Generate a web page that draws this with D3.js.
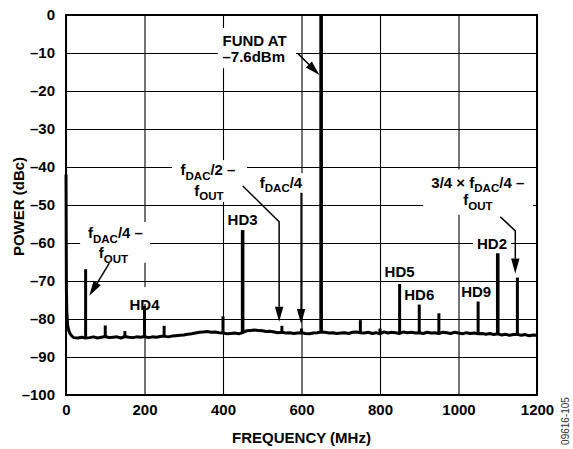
<!DOCTYPE html>
<html><head><meta charset="utf-8">
<script src="https://cdn.jsdelivr.net/npm/d3@7"></script>
<style>
html,body{margin:0;padding:0;background:#fff;}
svg{display:block;font-family:"Liberation Sans",Arial,Helvetica,sans-serif;font-weight:bold;}
</style></head>
<body><svg id="c" width="573" height="449"></svg>
<script>
// ---- data ----
const xTicks = [0, 200, 400, 600, 800, 1000, 1200];
const yTicks = [0, -10, -20, -30, -40, -50, -60, -70, -80, -90, -100];
// DC roll-off at the start of the trace (MHz, dBc)
const dcFreq  = [0, 1, 2, 4, 7, 10, 15];
const dcLevel = [-42, -72, -78, -81.5, -83, -83.8, -84.5];
// noise floor every 10 MHz from 20 to 1200 MHz (dBc)
const floorStart = 20, floorStep = 10;
const floorLevel = [
 -84.9,-85.0,-84.8,-85.0,-84.9,-84.7,-85.0,-84.8,-84.6,-84.9,
 -84.8,-84.7,-85.0,-84.6,-84.8,-84.9,-84.7,-84.8,-84.6,-84.9,
 -84.7,-84.8,-84.6,-84.5,-84.7,-84.5,-84.4,-84.3,-84.2,-84.0,
 -83.9,-83.7,-83.5,-83.4,-83.3,-83.5,-83.4,-83.6,-83.7,-83.9,
 -83.8,-83.7,-83.9,-83.6,-83.1,-83.0,-82.9,-83.0,-83.1,-83.3,
 -83.2,-83.4,-83.6,-83.5,-83.7,-83.6,-83.8,-83.7,-83.6,-83.8,
 -83.9,-83.7,-83.6,-83.4,-83.5,-83.7,-83.6,-83.8,-83.7,-83.6,
 -83.8,-83.5,-83.4,-83.6,-83.7,-83.5,-83.8,-83.6,-83.9,-83.4,
 -83.7,-83.5,-83.6,-83.8,-83.4,-83.6,-83.5,-83.7,-83.6,-83.8,
 -83.5,-83.7,-83.6,-83.8,-83.5,-83.6,-83.8,-83.5,-83.7,-83.9,
 -83.6,-83.8,-83.7,-83.9,-83.8,-84.0,-83.8,-84.1,-83.9,-84.2,
 -84.0,-84.3,-84.1,-84.0,-84.3,-84.1,-84.4,-84.2,-84.3
];
// discrete spurs (MHz, dBc)
const spurFreq  = [50, 100, 150, 200, 250, 400, 450, 550, 600, 650, 750, 800, 850, 900, 950, 1050, 1100, 1150];
const spurLevel = [-66.9, -81.7, -83.2, -76.6, -81.8, -79.3, -56.6, -81.8, -82.5, 0, -80.3, -82.5, -70.8, -76.2, -78.5, -75.4, -62.7, -69.1];
const spurWide  = [450, 650, 1100];

// ---- chart ----
const svg = d3.select('#c');
const x = d3.scaleLinear().domain([0, 1200]).range([66, 537]);
const y = d3.scaleLinear().domain([-100, 0]).range([395, 15]);
const fmt = d => d === 0 ? '0' : '\u2013' + Math.abs(d);

// grid + tick labels through d3 axes
const gx = svg.append('g').attr('transform', `translate(0,${y(-100)})`)
  .call(d3.axisBottom(x).tickValues(xTicks).tickSize(-(y(-100) - y(0))).tickPadding(9.5).tickFormat(d => d));
const gy = svg.append('g').attr('transform', `translate(${x(0)},0)`)
  .call(d3.axisLeft(y).tickValues(yTicks).tickSize(-(x(1200) - x(0))).tickPadding(11).tickFormat(fmt));
[gx, gy].forEach(g => {
  g.select('.domain').remove();
  g.selectAll('line').attr('stroke', '#000').attr('stroke-width', 1.1);
  g.selectAll('text').attr('fill', '#000').attr('font-size', 15).attr('font-family', null).attr('font-weight', 'bold');
});

// white boxes behind annotation labels (data coords)
const boxes = [
  [387, 586, -3.4, -14.0],
  [270, 461, -38.2, -49.2],
  [479, 616, -41.6, -46.8],
  [36, 214, -54.5, -65.2],
  [155, 245, -71.6, -76.0],
  [1037, 1134, -58.2, -62.1],
  [910, 1190, -40.6, -52.6]
];
svg.append('g').selectAll('rect').data(boxes).join('rect')
  .attr('x', d => x(d[0])).attr('width', d => x(d[1]) - x(d[0]))
  .attr('y', d => y(d[2])).attr('height', d => y(d[3]) - y(d[2]))
  .attr('fill', '#fff');

// frame
svg.append('rect').attr('x', x(0)).attr('y', y(0))
  .attr('width', x(1200) - x(0)).attr('height', y(-100) - y(0))
  .attr('fill', 'none').attr('stroke', '#000').attr('stroke-width', 2);

// floor lookup
const floorFreq = floorLevel.map((v, i) => floorStart + i * floorStep);
const floorAt = f => {
  const i = Math.min(Math.max(Math.floor((f - floorStart) / floorStep), 0), floorLevel.length - 2);
  const t = (f - floorFreq[i]) / floorStep;
  return floorLevel[i] + (floorLevel[i + 1] - floorLevel[i]) * t;
};

// spurs
svg.append('g').selectAll('line').data(spurFreq).join('line')
  .attr('x1', d => x(d)).attr('x2', d => x(d))
  .attr('y1', (d, i) => y(spurLevel[i])).attr('y2', d => y(floorAt(d)))
  .attr('stroke', '#000').attr('stroke-width', d => spurWide.includes(d) ? 3.6 : 3);

// trace
const pts = dcFreq.map((f, i) => [f, dcLevel[i]]).concat(floorFreq.map((f, i) => [f, floorLevel[i]]));
svg.append('path').datum(pts)
  .attr('d', d3.line().x(d => x(d[0])).y(d => y(d[1])))
  .attr('fill', 'none').attr('stroke', '#000').attr('stroke-width', 3).attr('stroke-linejoin', 'round');

// arrows (data coords, last point = tip)
const arrows = [
  [[590.7, -10.1], [645.8, -15.8]],
  [[450.5, -45.0], [543, -54.4], [543, -80.7]],
  [[599, -46.8], [599, -81.3]],
  [[110.4, -65.3], [59.4, -73.9]],
  [[1106.4, -53.1], [1144.7, -56.8], [1144.7, -68.0]]
];
const ag = svg.append('g');
arrows.forEach(a => {
  const p = a.map(d => [x(d[0]), y(d[1])]);
  const n = p.length;
  const [tx, ty] = p[n - 1], [sx, sy] = p[n - 2];
  const L = Math.hypot(tx - sx, ty - sy), ux = (tx - sx) / L, uy = (ty - sy) / L;
  const hl = 15, hw = 4.2;
  const bx = tx - ux * hl, by = ty - uy * hl;
  const lp = p.slice(0, n - 1).concat([[bx, by]]);
  ag.append('path').attr('d', d3.line()(lp)).attr('fill', 'none').attr('stroke', '#000').attr('stroke-width', 1.5);
  ag.append('path').attr('d', `M${tx},${ty}L${bx - uy * hw},${by + ux * hw}L${bx + uy * hw},${by - ux * hw}Z`).attr('fill', '#000');
});

// annotation text
const lg = svg.append('g').attr('font-size', 15).attr('fill', '#000');
function rich(fx, dbv, parts, anchor) {
  const t = lg.append('text').attr('x', x(fx)).attr('y', y(dbv)).attr('text-anchor', anchor || 'middle');
  let shift = 0;
  parts.forEach(([s, sub]) => {
    const target = sub ? 4.5 : 0;
    t.append('tspan').attr('dy', target - shift).attr('font-size', sub ? 11.5 : 15).text(s);
    shift = target;
  });
}
rich(398.7, -8.2, [['FUND AT', 0]], 'start');
rich(398.7, -12.4, [['\u20137.6dBm', 0]], 'start');
rich(361.8, -42.2, [['f', 0], ['DAC', 1], ['/2 \u2013', 0]]);
rich(364, -47.6, [['f', 0], ['OUT', 1]]);
rich(547.8, -45.5, [['f', 0], ['DAC', 1], ['/4', 0]]);
rich(126, -58.8, [['f', 0], ['DAC', 1], ['/4 \u2013', 0]]);
rich(121, -64.0, [['f', 0], ['OUT', 1]]);
rich(1049.2, -45.4, [['3/4 \u00d7 f', 0], ['DAC', 1], ['/4 \u2013', 0]]);
rich(1049.5, -50.0, [['f', 0], ['OUT', 1]]);
const hd = [['HD4', 200, -77.6], ['HD3', 450, -55.3], ['HD5', 850, -68.9], ['HD6', 900, -75.0], ['HD9', 1045, -74.2], ['HD2', 1085.4, -61.6]];
hd.forEach(d => rich(d[1], d[2], [[d[0], 0]]));

// axis titles
svg.append('text').attr('x', (x(0) + x(1200)) / 2).attr('y', 442.5).attr('text-anchor', 'middle')
  .attr('font-size', 15).text('FREQUENCY (MHz)');
svg.append('text').attr('transform', `translate(24,${(y(0) + y(-100)) / 2 + 1.5}) rotate(-90)`).attr('text-anchor', 'middle')
  .attr('font-size', 15).text('POWER (dBc)');
svg.append('text').attr('transform', 'translate(569,421) rotate(-90)').attr('text-anchor', 'middle')
  .attr('font-size', 10).attr('font-weight', 'normal').attr('fill', '#333').text('09616-105');
</script></body></html>
